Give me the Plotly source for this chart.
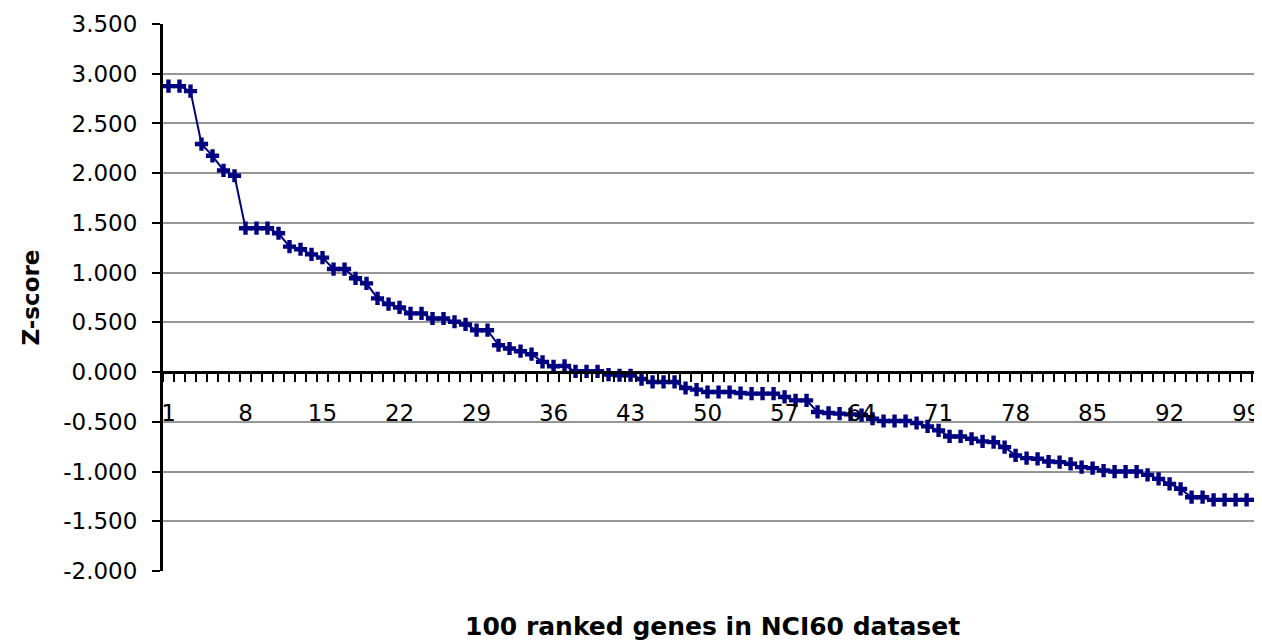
import plotly.graph_objects as go

ranks = list(range(1, 101))
z_scores = [
    2.875, 2.875, 2.825, 2.293, 2.175, 2.028, 1.974, 1.447, 1.447, 1.447,
    1.396, 1.262, 1.235, 1.184, 1.151, 1.036, 1.036, 0.943, 0.892, 0.741,
    0.684, 0.650, 0.590, 0.590, 0.539, 0.539, 0.506, 0.479, 0.421, 0.421,
    0.270, 0.237, 0.210, 0.180, 0.103, 0.058, 0.062, 0.008, 0.008, 0.008,
    -0.025, -0.032, -0.032, -0.070, -0.099, -0.099, -0.099, -0.160, -0.176, -0.200,
    -0.200, -0.200, -0.210, -0.217, -0.217, -0.217, -0.250, -0.284, -0.284, -0.401,
    -0.411, -0.418, -0.425, -0.432, -0.469, -0.492, -0.492, -0.492, -0.512, -0.546,
    -0.586, -0.647, -0.647, -0.670, -0.697, -0.704, -0.754, -0.838, -0.865, -0.872,
    -0.899, -0.905, -0.922, -0.956, -0.966, -0.990, -1.000, -1.000, -1.000, -1.033,
    -1.074, -1.124, -1.174, -1.258, -1.258, -1.285, -1.285, -1.285, -1.285, -1.285,
]
x_tick_vals = [1, 8, 15, 22, 29, 36, 43, 50, 57, 64, 71, 78, 85, 92, 99]
x_tick_text = [str(v) for v in x_tick_vals]
y_tick_vals = [-2.0, -1.5, -1.0, -0.5, 0.0, 0.5, 1.0, 1.5, 2.0, 2.5, 3.0, 3.5]
y_tick_text = [f"{v:.3f}" for v in y_tick_vals]

x_title = "100 ranked genes in NCI60 dataset"
y_title = "Z-score"

navy = "#000080"
tick_font = dict(family="DejaVu Sans", size=23, color="black")

# page body has an 8px margin; size the figure so the plot lands where the reference has it
W, H = 1254, 636
L, T, B = 155, 16, 73
plot_w = W - L
plot_h = H - T - B

fig = go.Figure()
fig.add_trace(go.Scatter(
    x=ranks, y=z_scores, mode="lines+markers",
    line=dict(color=navy, width=2),
    marker=dict(symbol="cross", size=11, color=navy),
    cliponaxis=True, showlegend=False,
))

y_min, y_max = -2.0, 3.5
fig.update_layout(
    width=W, height=H,
    margin=dict(l=L, r=0, t=T, b=B, pad=0),
    paper_bgcolor="white", plot_bgcolor="white",
    xaxis=dict(
        range=[0.5, 100.4],
        anchor="free", position=(0 - y_min) / (y_max - y_min),
        showline=True, linecolor="black", linewidth=3,
        showgrid=False, zeroline=False,
        tickmode="array", tickvals=x_tick_vals, ticktext=x_tick_text,
        ticks="", tickfont=tick_font, ticklabelstandoff=19,
        minor=dict(tick0=0.5, dtick=1, ticks="outside", ticklen=8,
                   tickwidth=2, tickcolor="black", showgrid=False),
    ),
    yaxis=dict(
        range=[y_min, y_max],
        showline=True, linecolor="black", linewidth=3,
        showgrid=True, gridcolor="#969696", gridwidth=2,
        zeroline=False,
        tickmode="array", tickvals=y_tick_vals, ticktext=y_tick_text,
        ticks="outside", ticklen=8, tickwidth=2, tickcolor="black",
        tickfont=tick_font, ticklabelstandoff=10,
    ),
    annotations=[
        dict(text=f"<b>{x_title}</b>", xref="paper", yref="paper",
             x=0.5, y=(571 - 626) / plot_h, xanchor="center", yanchor="middle",
             showarrow=False, font=dict(family="DejaVu Sans", size=25, color="black")),
        dict(text=f"<b>{y_title}</b>", xref="paper", yref="paper",
             x=(30 - 163) / plot_w, y=0.5, xanchor="center", yanchor="middle",
             textangle=-90, showarrow=False,
             font=dict(family="DejaVu Sans", size=23, color="black")),
    ],
)

fig.write_html("out.html", config={"displayModeBar": False})
